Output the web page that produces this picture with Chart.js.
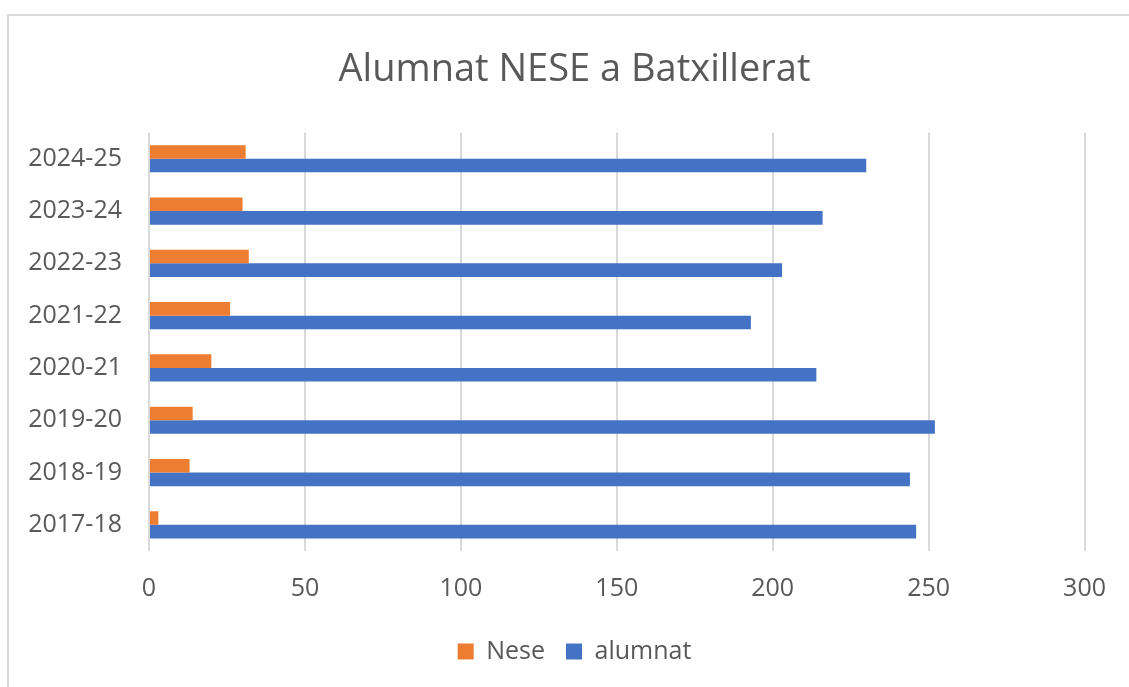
<!DOCTYPE html>
<html>
<head>
<meta charset="utf-8">
<title>Alumnat NESE a Batxillerat</title>
<script src="https://cdn.jsdelivr.net/npm/chart.js@4.4.1/dist/chart.umd.min.js"></script>
<style>
  html, body { margin: 0; padding: 0; background: #fff; overflow: hidden; }
  #marc {
    position: absolute; left: 7px; top: 14px; width: 1200px; height: 800px;
    border-left: 2px solid #d9d9d9; border-top: 2px solid #d9d9d9;
  }
  #grafic { position: absolute; left: 0; top: 0; }
</style>
</head>
<body>
<div id="marc"></div>
<canvas id="grafic" width="1129" height="687"></canvas>
<script>
// dades llegides del gràfic
const cursos = ["2017-18", "2018-19", "2019-20", "2020-21", "2021-22", "2022-23", "2023-24", "2024-25"];
const nese = [3, 13, 14, 20, 26, 32, 30, 31];
const alumnat = [246, 244, 252, 214, 193, 203, 216, 230];
const marquesX = [0, 50, 100, 150, 200, 250, 300];

const gris = "#595959";
const font = "'Open Sans', 'Noto Sans', sans-serif";

const canvas = document.getElementById("grafic");

new Chart(canvas, {
  type: "bar",
  data: {
    labels: cursos,
    datasets: [
      {
        label: "Nese",
        data: nese,
        backgroundColor: "#ED7D31",
        barPercentage: 1,
        categoryPercentage: 0.52
      },
      {
        label: "alumnat",
        data: alumnat,
        backgroundColor: "#4472C4",
        barPercentage: 1,
        categoryPercentage: 0.52
      }
    ]
  },
  options: {
    indexAxis: "y",
    responsive: false,
    animation: false,
    devicePixelRatio: 1,
    layout: { padding: { left: 20, right: 0, top: 0, bottom: 13 } },
    plugins: {
      title: {
        display: true,
        text: "Alumnat NESE a Batxillerat",
        color: gris,
        font: { family: font, size: 38, weight: "normal" },
        padding: { top: 47, bottom: 40 }
      },
      legend: {
        position: "bottom",
        labels: {
          color: gris,
          font: { family: font, size: 25 },
          boxWidth: 16,
          boxHeight: 16,
          padding: 21
        }
      },
      tooltip: { enabled: false }
    },
    scales: {
      x: {
        min: 0,
        max: 300,
        afterBuildTicks: (scale) => {
          scale.ticks = marquesX.map(v => ({ value: v }));
        },
        afterFit: (scale) => { scale.height = 67; },
        border: { display: false },
        grid: { color: "#d9d9d9", lineWidth: 2, drawTicks: false },
        ticks: {
          color: gris,
          font: { family: font, size: 25 },
          padding: 23
        }
      },
      y: {
        reverse: true,
        afterFit: (scale) => { scale.width = 129; },
        border: { display: false },
        grid: { display: false, drawTicks: false },
        ticks: {
          color: gris,
          font: { family: font, size: 25 },
          padding: 27
        }
      },
      // eix buit a la dreta només per deixar el marge
      marge: {
        type: "category",
        position: "right",
        afterFit: (scale) => { scale.width = 44; },
        border: { display: false },
        grid: { display: false, drawTicks: false },
        ticks: { display: false }
      }
    }
  }
});
</script>
</body>
</html>
